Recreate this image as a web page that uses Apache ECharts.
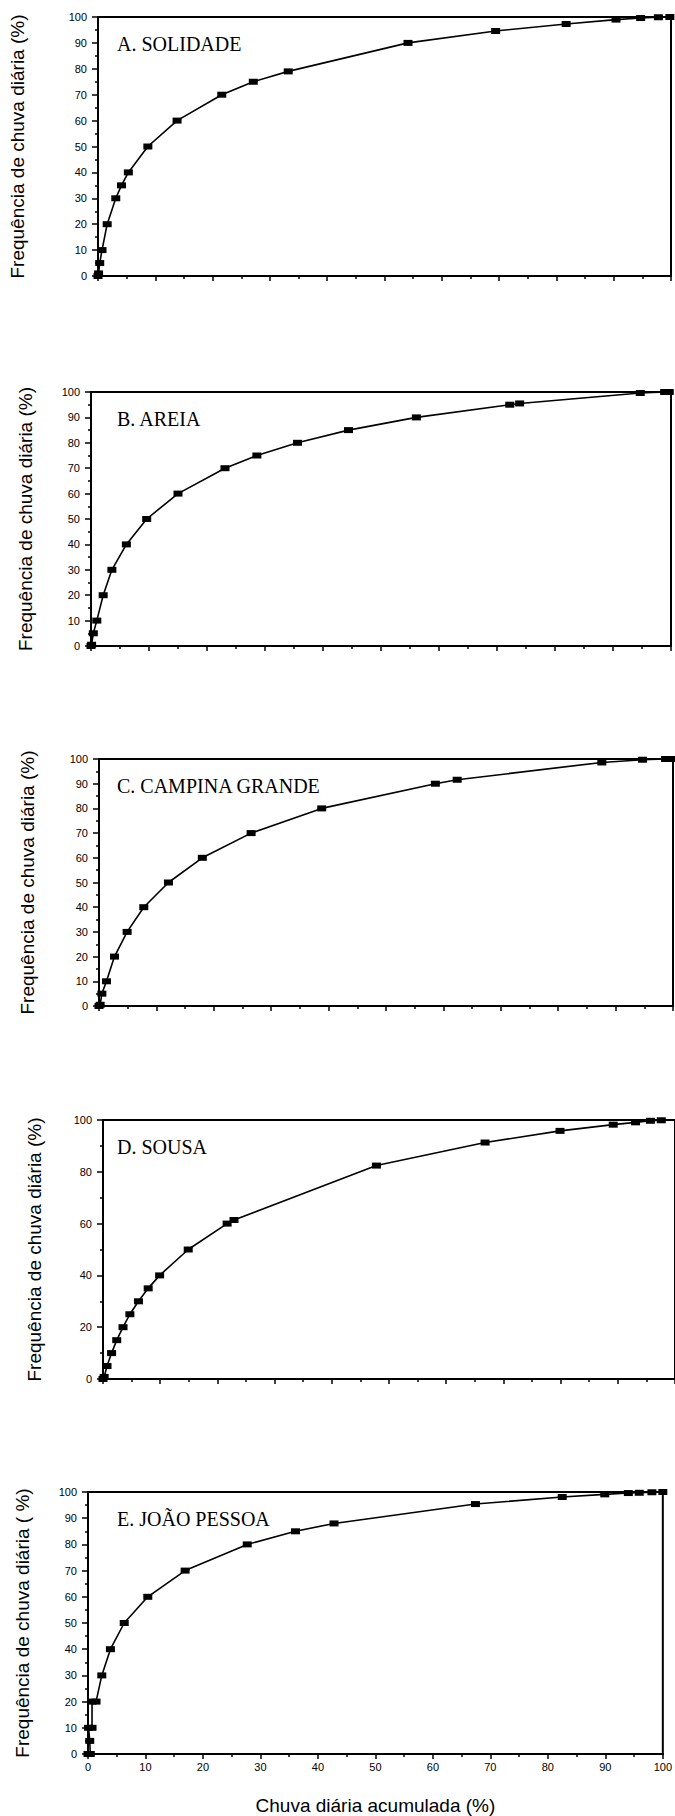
<!DOCTYPE html>
<html>
<head>
<meta charset="utf-8">
<script src="https://cdn.jsdelivr.net/npm/echarts@6/dist/echarts.min.js"></script>
<style>
html, body { margin: 0; padding: 0; background: #fff; }
#main { width: 675px; height: 1816px; }
</style>
</head>
<body>
<div id="main"></div>
<script>
// textos
var stations = ['A. SOLIDADE', 'B. AREIA', 'C. CAMPINA GRANDE', 'D. SOUSA', 'E. JOÃO PESSOA'];
var yNames = [
    'Frequência de chuva diária (%)',
    'Frequência de chuva diária (%)',
    'Frequência de chuva diária (%)',
    'Frequência de chuva diária (%)',
    'Frequência de chuva diária ( %)'
];
var xName = 'Chuva diária acumulada (%)';
var xTicks = [0, 10, 20, 30, 40, 50, 60, 70, 80, 90, 100];

// dados: chuva acumulada (x) e frequência (y)
var solidadeX = [0, 0.1, 0.3, 0.7, 1.6, 3.1, 4.1, 5.3, 8.7, 13.8, 21.6, 27.1, 33.2, 54.1, 69.4, 81.7, 90.4, 94.7, 97.8, 99.8];
var solidadeY = [0, 1, 5, 10, 20, 30, 35, 40, 50, 60, 70, 75, 79, 90, 94.6, 97.3, 99.0, 99.6, 99.9, 100];

var areiaX = [0, 0.1, 0.4, 1.0, 2.1, 3.6, 6.1, 9.6, 15.0, 23.1, 28.6, 35.6, 44.4, 56.1, 72.2, 73.9, 94.7, 98.9, 99.7];
var areiaY = [0, 0.5, 5, 10, 20, 30, 40, 50, 60, 70, 75, 80, 85, 90, 95, 95.5, 99.6, 100, 100];

var campinaX = [0, 0.2, 0.5, 1.3, 2.7, 4.9, 7.8, 12.1, 18.0, 26.5, 38.8, 58.6, 62.4, 87.6, 94.7, 98.7, 99.8];
var campinaY = [0, 0.5, 5, 10, 20, 30, 40, 50, 60, 70, 80, 90, 91.6, 98.6, 99.7, 100, 100];

var sousaX = [0, 0.2, 0.7, 1.5, 2.4, 3.5, 4.7, 6.2, 7.9, 9.9, 14.9, 21.7, 22.9, 47.8, 66.8, 79.9, 89.2, 93.1, 95.7, 97.6];
var sousaY = [0, 0.8, 5, 10, 15, 20, 25, 30, 35, 40, 50, 60, 61.4, 82.4, 91.3, 95.8, 98.2, 99.1, 99.7, 99.9];

var joaoX = [0, 0.4, 0.3, 0.1, 0.7, 0.7, 1.4, 2.4, 3.9, 6.3, 10.4, 16.9, 27.7, 36.1, 42.8, 67.4, 82.5, 89.9, 94.0, 95.9, 98.1, 100];
var joaoY = [0, 0, 5, 10, 10, 20, 20, 30, 40, 50, 60, 70, 80, 85, 88, 95.4, 98.1, 99.1, 99.6, 99.7, 99.9, 100];

var seriesX = [solidadeX, areiaX, campinaX, sousaX, joaoX];
var seriesY = [solidadeY, areiaY, campinaY, sousaY, joaoY];

// posição de cada painel
var grids = [
    { left: 90,  top: 17,   width: 581, height: 259 },
    { left: 91,  top: 392,  width: 580, height: 254 },
    { left: 99,  top: 759,  width: 574, height: 247 },
    { left: 103, top: 1120, width: 580, height: 259 },
    { left: 88,  top: 1492, width: 577, height: 263 }
];
var nameGaps = [71, 56, 62, 59, 56];
var yIntervals = [10, 10, 10, 20, 10];

var font = 'Liberation Sans, Arial, sans-serif';

function zip(xs, ys) {
    var out = [];
    for (var i = 0; i < xs.length; i++) out.push([xs[i], ys[i]]);
    return out;
}

var option = {
    animation: false,
    backgroundColor: '#fff',
    title: [],
    grid: [],
    xAxis: [],
    yAxis: [],
    series: []
};

for (var i = 0; i < 5; i++) {
    var g = grids[i];
    var last = (i === 4);
    option.grid.push({
        left: g.left, top: g.top, width: g.width, height: g.height,
        show: true, borderColor: '#000', borderWidth: 2,
        backgroundColor: 'transparent'
    });
    option.title.push({
        text: stations[i],
        left: 117,
        top: g.top + 17,
        padding: 0,
        textStyle: {
            fontFamily: 'Liberation Serif, Times New Roman, serif',
            fontSize: 20,
            fontWeight: 'normal',
            color: '#000'
        }
    });
    option.xAxis.push({
        gridIndex: i,
        type: 'value',
        min: xTicks[0],
        max: xTicks[xTicks.length - 1],
        interval: 10,
        name: last ? xName : '',
        nameLocation: 'middle',
        nameGap: 42,
        nameTextStyle: { fontFamily: font, fontSize: 19, color: '#000' },
        axisLine: { show: true, lineStyle: { color: '#000', width: 2 } },
        axisTick: { show: true, inside: false, length: 5, lineStyle: { color: '#000', width: 1.5 } },
        minorTick: { show: true, splitNumber: 2, length: 3, lineStyle: { color: '#000', width: 1.5 } },
        splitLine: { show: false },
        axisLabel: {
            show: last,
            fontFamily: font,
            fontSize: 11,
            color: '#000',
            margin: 7
        }
    });
    option.yAxis.push({
        gridIndex: i,
        type: 'value',
        min: 0,
        max: 100,
        interval: yIntervals[i],
        name: yNames[i],
        nameLocation: 'middle',
        nameRotate: 90,
        nameGap: nameGaps[i],
        nameTextStyle: { fontFamily: font, fontSize: 19, color: '#000' },
        axisLine: { show: true, lineStyle: { color: '#000', width: 2 } },
        axisTick: { show: true, inside: false, length: 6, lineStyle: { color: '#000', width: 1.5 } },
        minorTick: { show: true, splitNumber: 2, length: 3, lineStyle: { color: '#000', width: 1.5 } },
        splitLine: { show: false },
        axisLabel: {
            fontFamily: font,
            fontSize: 11,
            color: '#000',
            margin: 11
        }
    });
    option.series.push({
        type: 'line',
        xAxisIndex: i,
        yAxisIndex: i,
        data: zip(seriesX[i], seriesY[i]),
        symbol: 'rect',
        symbolSize: [9, 6],
        clip: false,
        lineStyle: { color: '#000', width: 1.6 },
        itemStyle: { color: '#000' }
    });
}

var myChart = echarts.init(document.getElementById('main'), null, { renderer: 'svg' });
myChart.setOption(option);
</script>
</body>
</html>
